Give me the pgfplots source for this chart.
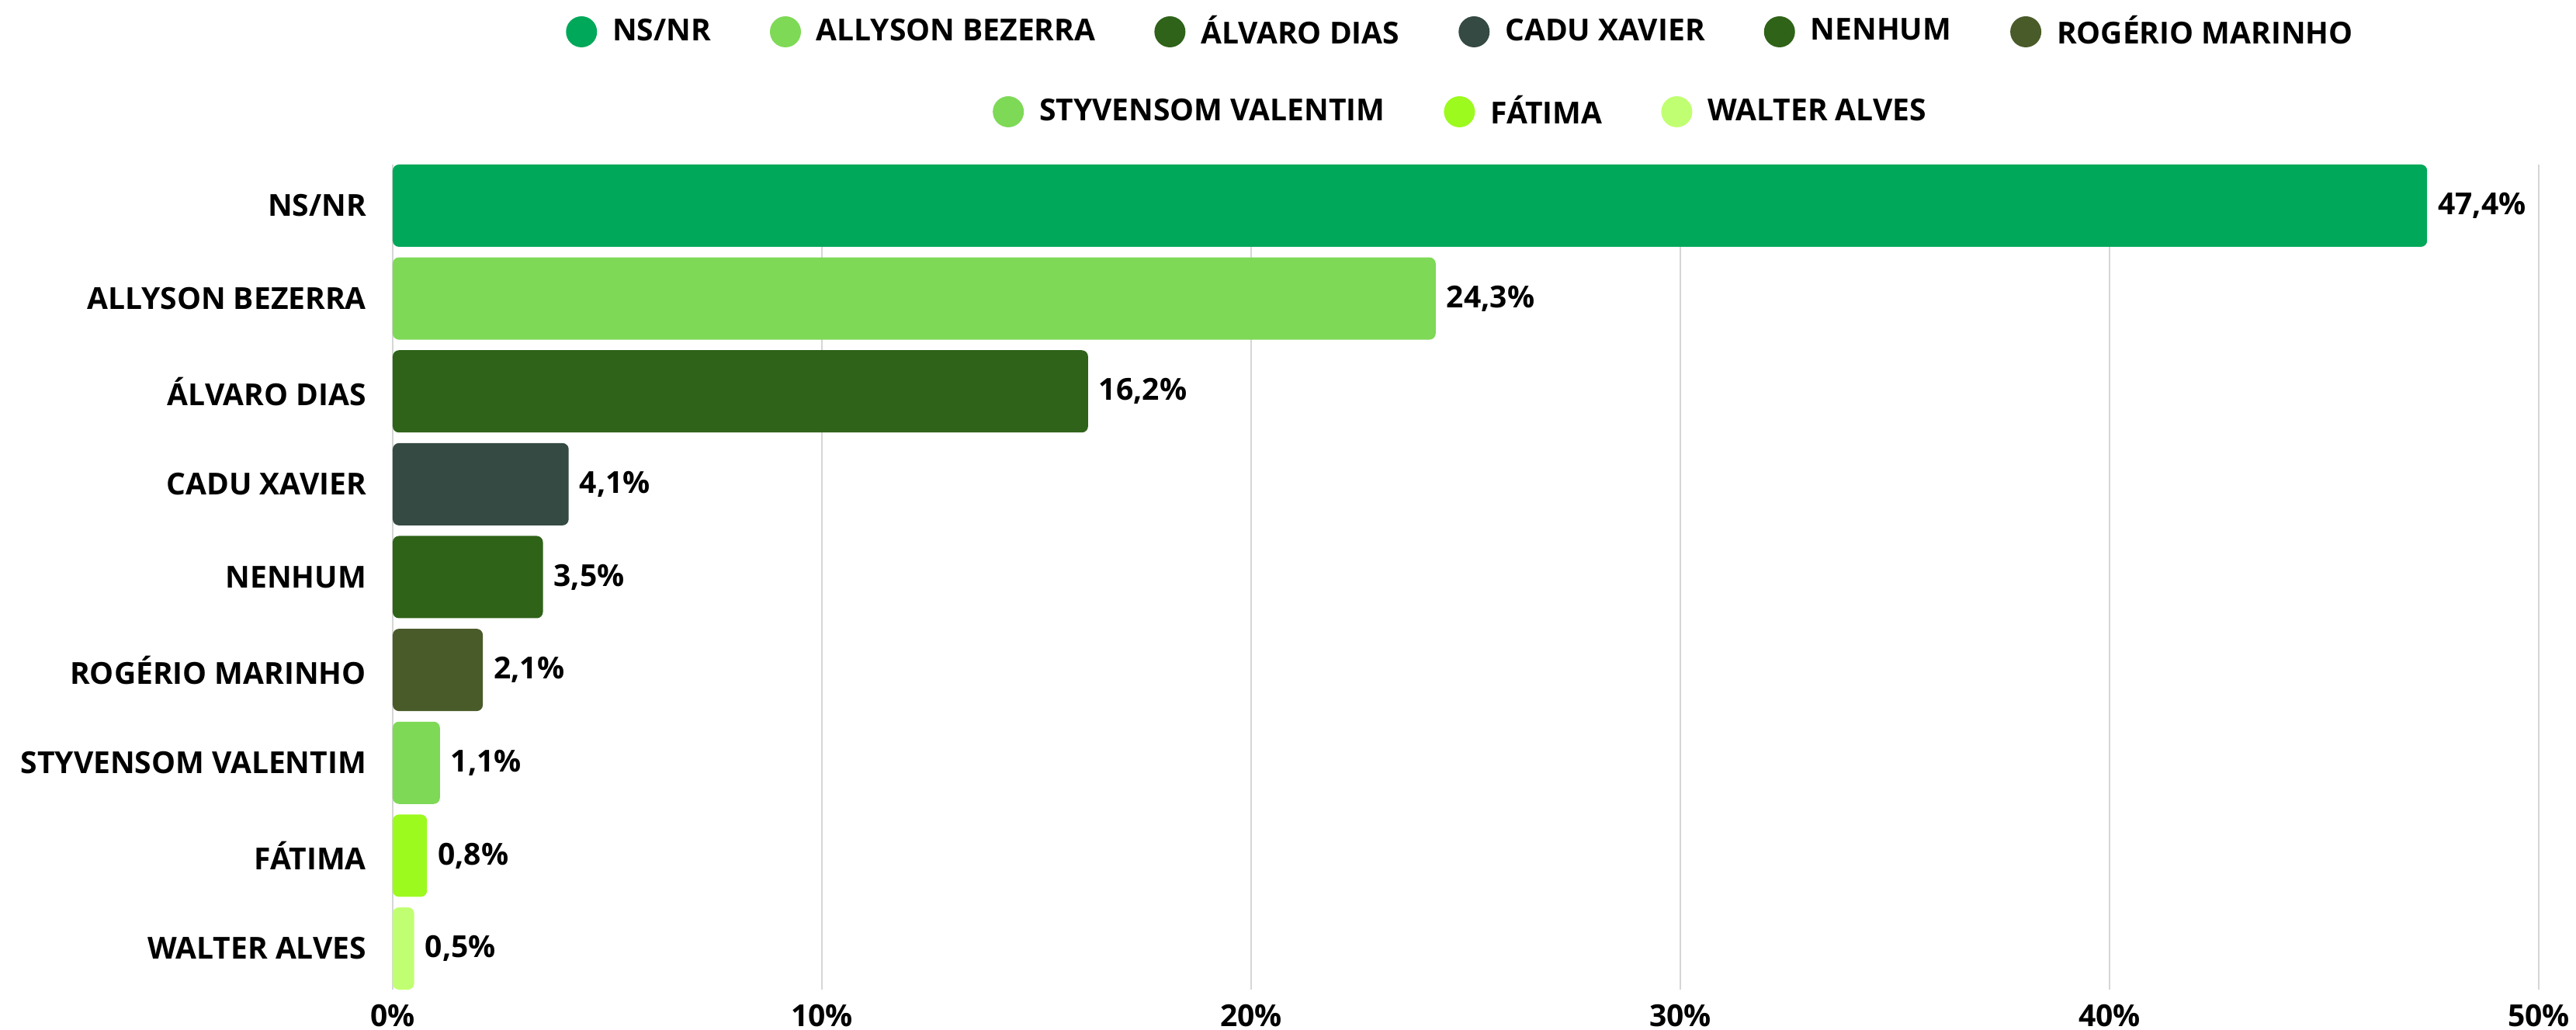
\documentclass[border=0pt]{standalone}
\usepackage{fontspec}
\setmainfont{Open Sans}
\usepackage{pgfplots}
\pgfplotsset{compat=1.18}

\definecolor{cNS}{HTML}{00A859}
\definecolor{cAlly}{HTML}{7ED957}
\definecolor{cAlv}{HTML}{2E6319}
\definecolor{cCadu}{HTML}{344A42}
\definecolor{cNen}{HTML}{2F6318}
\definecolor{cRog}{HTML}{4A5B2A}
\definecolor{cSty}{HTML}{7ED957}
\definecolor{cFat}{HTML}{9CFA1E}
\definecolor{cWal}{HTML}{C1FF72}

\newcommand{\lbl}{\bfseries\fontsize{9.75}{11.5}\selectfont}

\pgfplotsset{
  base/.style={
    scale only axis,
    width=691.25pt, height=265.75pt,
    at={(0,0)}, anchor=south west,
    xmin=0, xmax=50, ymin=-0.443, ymax=8.443,
    y dir=reverse,
    xbar, bar width=26.5pt, bar shift=0pt,
    clip=false,
    point meta=x,
    /pgf/number format/assume math mode=true,
    nodes near coords={\pgfmathprintnumber[fixed,fixed zerofill,precision=1,use comma]{\pgfplotspointmeta}\%},
    nodes near coords style={font=\lbl, anchor=west, text=black},
    legend image code/.code={\fill[##1] (0pt,0pt) circle (5pt);},
    legend style={draw=none, fill=none, font=\lbl, inner sep=0pt,
      nodes={inner sep=0pt},
      /tikz/every odd column/.append style={column sep=5pt},
      /tikz/every even column/.append style={column sep=19pt},
      at={(0.5,1)}, anchor=center},
  },
  bars/.style={fill=#1, draw=none, rounded corners=2pt},
}

\begin{document}
\begin{tikzpicture}
  \begin{axis}[
    base,
    xtick={0,10,...,50},
    xticklabel={\pgfmathprintnumber{\tick}\%},
    ytick={0,1,...,8},
    yticklabels={NS/NR, ALLYSON BEZERRA, ÁLVARO DIAS, CADU XAVIER, NENHUM,
      ROGÉRIO MARINHO, STYVENSOM VALENTIM, FÁTIMA, WALTER ALVES},
    tick label style={font=\lbl},
    xticklabel style={inner sep=0pt, anchor=north, yshift=-4.5pt},
    yticklabel style={xshift=-5pt},
    major tick length=0pt,
    axis line style={draw=none},
    xmajorgrids,
    grid style={black!16, line width=0.5pt},
    legend columns=6,
    legend style={yshift=42.75pt, xshift=-2pt},
  ]
    \addplot[bars=cNS]   coordinates {(47.4,0)};
    \addlegendentry{NS/NR}
    \addplot[bars=cAlly] coordinates {(24.3,1)};
    \addlegendentry{ALLYSON BEZERRA}
    \addplot[bars=cAlv]  coordinates {(16.2,2)};
    \addlegendentry{ÁLVARO DIAS}
    \addplot[bars=cCadu] coordinates {(4.1,3)};
    \addlegendentry{CADU XAVIER}
    \addplot[bars=cNen]  coordinates {(3.5,4)};
    \addlegendentry{NENHUM}
    \addplot[bars=cRog]  coordinates {(2.1,5)};
    \addlegendentry{ROGÉRIO MARINHO}
  \end{axis}
  \begin{axis}[
    base,
    hide axis,
    legend columns=3,
    legend style={yshift=17pt, xshift=-2pt},
  ]
    \addplot[bars=cSty] coordinates {(1.1,6)};
    \addlegendentry{STYVENSOM VALENTIM}
    \addplot[bars=cFat] coordinates {(0.8,7)};
    \addlegendentry{FÁTIMA}
    \addplot[bars=cWal] coordinates {(0.5,8)};
    \addlegendentry{WALTER ALVES}
  \end{axis}
  \pgfresetboundingbox
  \path[use as bounding box] (-126.5pt,-13pt) rectangle (703.25pt,318.75pt);
\end{tikzpicture}
\end{document}
